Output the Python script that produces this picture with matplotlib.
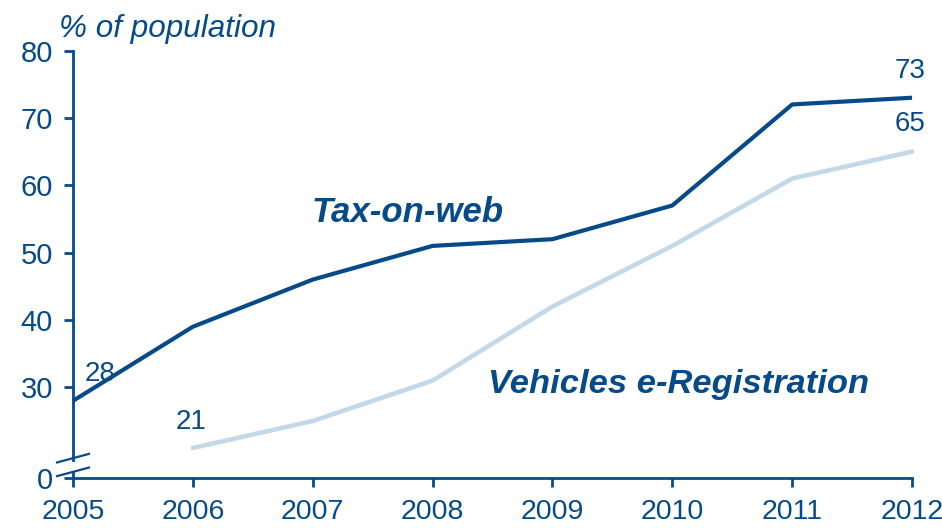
import matplotlib
matplotlib.use("Agg")
import matplotlib.pyplot as plt

plt.rcParams['font.family'] = ['Liberation Sans', 'DejaVu Sans']

years = [2005, 2006, 2007, 2008, 2009, 2010, 2011, 2012]
tax_on_web = [28, 39, 46, 51, 52, 57, 72, 73]
vehicle_years = [2006, 2007, 2008, 2009, 2010, 2011, 2012]
vehicles_reg = [21, 25, 31, 42, 51, 61, 65]
y_ticks = [30, 40, 50, 60, 70, 80]

dark = '#064a8a'
light = '#c3d9e8'

# the axis is broken: the bottom edge stands for 0
y_bottom = 16.5

fig = plt.figure(figsize=(9.42, 5.29), dpi=100)
ax = fig.add_axes([0.0775, 0.0959, 0.8907, 0.8085])

ax.plot(vehicle_years, vehicles_reg, color=light, lw=3.3, solid_capstyle='round', clip_on=False)
ax.plot(years, tax_on_web, color=dark, lw=3.0, solid_capstyle='butt', clip_on=False)

ax.set_xlim(years[0], years[-1])
ax.set_ylim(y_bottom, 80)

ax.set_xticks(years)
ax.set_xticklabels([str(y) for y in years])
ax.set_yticks([y_bottom] + y_ticks)
ax.set_yticklabels(['0'] + [str(t) for t in y_ticks])

for s in ['top', 'right', 'left']:
    ax.spines[s].set_visible(False)
ax.spines['bottom'].set_color(dark)
ax.spines['bottom'].set_linewidth(2)

ax.tick_params(axis='both', colors=dark, labelcolor=dark, labelsize=21,
               width=2, length=6.5, direction='out')
ax.tick_params(axis='x', pad=8.5, labelsize=20.5)
ax.tick_params(axis='y', pad=8)

# left spine drawn in two pieces with break marks between them
brk_hi, brk_lo = 0.047, 0.015
ax.plot([0, 0], [brk_hi - 0.004, 1], transform=ax.transAxes, color=dark, lw=2, clip_on=False)
ax.plot([0, 0], [0, brk_lo - 0.003], transform=ax.transAxes, color=dark, lw=2, clip_on=False)
dx, dy = 0.019, 0.010
for yb in (brk_hi, brk_lo):
    ax.plot([-dx, dx], [yb - dy, yb + dy], transform=ax.transAxes, color=dark, lw=1.6, clip_on=False)

# value labels
lab = dict(textcoords='offset points', ha='center', va='center', fontsize=20, color=dark)
ax.annotate(str(tax_on_web[0]), (years[0], tax_on_web[0]), xytext=(19.5, 19.5), **lab)
ax.annotate(str(vehicles_reg[0]), (vehicle_years[0], vehicles_reg[0]), xytext=(-1.4, 19), **lab)
ax.annotate(str(tax_on_web[-1]), (years[-1], tax_on_web[-1]), xytext=(-1.2, 19.5), **lab)
ax.annotate(str(vehicles_reg[-1]), (vehicle_years[-1], vehicles_reg[-1]), xytext=(-1.2, 20), **lab)

# series names
ax.text(2007.79, 54.56, 'Tax-on-web', fontsize=25, fontweight='bold', fontstyle='italic',
        color=dark, ha='center', va='baseline')
ax.text(2010.05, 29.1, 'Vehicles e-Registration', fontsize=24.8, fontweight='bold',
        fontstyle='italic', color=dark, ha='center', va='baseline')

fig.text(0.0626, 0.9306, '% of population', fontsize=22.7, fontstyle='italic', color=dark,
         ha='left', va='baseline')

fig.savefig('out.png', dpi=100)
